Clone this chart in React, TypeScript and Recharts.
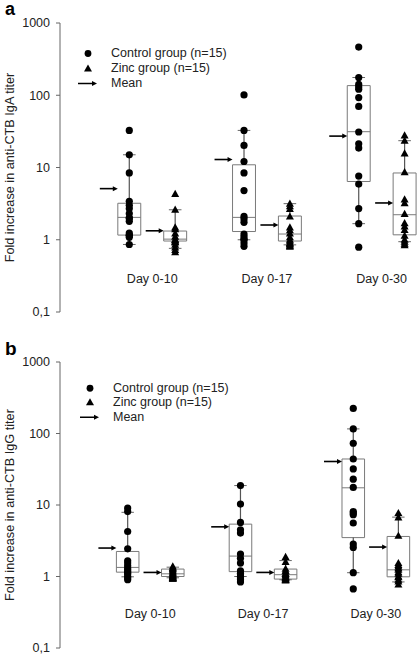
import React from "react";
import { ComposedChart, Scatter, XAxis, YAxis, ReferenceArea, ReferenceLine, Legend } from "recharts";

const days = ["Day 0-10", "Day 0-17", "Day 0-30"];
const yTicks = [0.1, 1, 10, 100, 1000];

// fold increase, anti-CTB IgA (panel a)
const igaControl10 = [32.6, 15, 8.4, 3.4, 3.0, 2.7, 2.3, 2.0, 2.0, 1.8, 1.24, 1.15, 1.15, 1.08, 0.86];
const igaZinc10 = [4.3, 2.6, 1.48, 1.4, 1.22, 1.1, 1.0, 1.0, 0.95, 0.92, 0.92, 0.85, 0.78, 0.72, 0.67];
const igaControl17 = [101, 32.6, 20.2, 12.1, 8.4, 4.8, 2.1, 1.94, 1.74, 1.2, 1.11, 1.02, 1.0, 0.9, 0.81];
const igaZinc17 = [3.16, 2.9, 2.66, 2.09, 1.48, 1.35, 1.22, 1.08, 1.0, 0.95, 0.9, 0.87, 0.85, 0.82, 0.8];
const igaControl30 = [464, 176, 141, 130, 121, 93, 70, 31, 21.3, 18.6, 7.6, 5.9, 2.7, 1.67, 0.79];
const igaZinc30 = [27.8, 23.5, 15.6, 8.6, 3.6, 3.2, 2.28, 1.69, 1.53, 1.36, 1.14, 1.0, 0.94, 0.88, 0.84];
// [low whisker, q1, median, q3, high whisker]
const igaControlBox = [[0.86, 1.16, 2.04, 3.2, 15], [1.0, 1.3, 2.04, 10.9, 32.6], [1.67, 6.4, 31.3, 136, 176]];
const igaZincBox = [[0.76, 0.96, 1.02, 1.32, 2.6], [0.85, 0.96, 1.2, 2.13, 3.16], [0.94, 1.17, 2.22, 8.4, 23.5]];
const igaControlMean = [5.1, 12.9, 27.2];
const igaZincMean = [1.33, 1.6, 3.23];

// fold increase, anti-CTB IgG (panel b)
const iggControl10 = [9.06, 8.1, 4.26, 2.44, 1.66, 1.54, 1.41, 1.31, 1.24, 1.17, 1.12, 1.08, 1.0, 0.95, 0.9];
const iggZinc10 = [1.38, 1.32, 1.27, 1.22, 1.17, 1.13, 1.09, 1.05, 1.02, 1.0, 0.98, 0.96, 0.95, 0.93, 0.93];
const iggControl17 = [18.7, 10.3, 5.7, 4.5, 4.05, 2.06, 1.8, 1.54, 1.2, 1.1, 1.08, 1.0, 0.95, 0.9, 0.84];
const iggZinc17 = [1.87, 1.6, 1.28, 1.2, 1.17, 1.1, 1.08, 1.04, 0.99, 0.97, 0.95, 0.93, 0.9, 0.9, 0.88];
const iggControl30 = [224, 116, 73, 44, 32, 23, 17.6, 8.1, 7.7, 7.3, 5.6, 2.84, 2.55, 1.13, 0.67];
const iggZinc30 = [7.7, 6.7, 3.7, 1.54, 1.45, 1.38, 1.3, 1.24, 1.15, 1.09, 1.0, 0.98, 0.9, 0.85, 0.77];
const iggControlBox = [[0.99, 1.15, 1.34, 2.24, 7.9], [1.0, 1.17, 1.93, 5.4, 18.7], [1.13, 3.5, 17.4, 44, 116]];
const iggZincBox = [[0.96, 1.0, 1.09, 1.27, 1.35], [0.9, 0.92, 1.06, 1.27, 1.67], [0.84, 0.99, 1.24, 3.63, 6.77]];
const iggControlMean = [2.5, 4.95, 40.6];
const iggZincMean = [1.14, 1.14, 2.58];

const FONT = "'Liberation Sans', Arial, sans-serif";
const ZINC = 0.4;
const HALF = 0.1;
const CAP = 0.055;
const BOX = "#7a7a7a";

const Dot = (p: any) => <circle cx={p.cx} cy={p.cy} r={3.6} fill="#000" />;
const Tri = (p: any) => (
  <polygon points={`${p.cx},${p.cy - 4.2} ${p.cx - 4},${p.cy + 3} ${p.cx + 4},${p.cy + 3}`} fill="#000" />
);
const Arrow = (p: any) => (
  <g>
    <line x1={p.cx - 18} y1={p.cy} x2={p.cx - 4} y2={p.cy} stroke="#000" strokeWidth={1.6} />
    <polygon points={`${p.cx},${p.cy} ${p.cx - 5},${p.cy - 2.5} ${p.cx - 5},${p.cy + 2.5}`} fill="#000" />
  </g>
);
const DayLabel = (p: any) => (
  <text x={p.cx} y={p.cy} dy={4} textAnchor="middle" fontFamily={FONT} fontSize={12.5} fill="#222">
    {p.payload.label}
  </text>
);

const LegendContent = (props: any) => {
  const rowH = props.rowH;
  const row = (icon: any, txt: string) => (
    <div style={{ display: "flex", alignItems: "center", height: rowH }}>
      <svg width={33} height={rowH}>{icon}</svg>
      <span>{txt}</span>
    </div>
  );
  const m = rowH / 2;
  return (
    <div style={{ fontFamily: FONT, fontSize: 12.5, color: "#222", lineHeight: 1 }}>
      {row(<circle cx={10} cy={m} r={3.4} fill="#000" />, "Control group (n=15)")}
      {row(<polygon points={`10,${m - 4} 6,${m + 3} 14,${m + 3}`} fill="#000" />, "Zinc group (n=15)")}
      {row(
        <g>
          <line x1={0} y1={m} x2={15} y2={m} stroke="#000" strokeWidth={1.5} />
          <polygon points={`19,${m} 14,${m - 2.5} 14,${m + 2.5}`} fill="#000" />
        </g>,
        "Mean"
      )}
    </div>
  );
};

const Panel = (props: any) => {
  const { control, zinc, controlBox, zincBox, controlMean, zincMean, title, top, height, margin, xDomain, labelY, legendPos, rowH } = props;
  const ctrlPts = control.flatMap((arr: number[], i: number) => arr.map((v) => ({ x: i, y: v })));
  const zincPts = zinc.flatMap((arr: number[], i: number) => arr.map((v) => ({ x: i + ZINC, y: v })));
  const means = [
    ...controlMean.map((v: number, i: number) => ({ x: i - HALF, y: v })),
    ...zincMean.map((v: number, i: number) => ({ x: i + ZINC - HALF, y: v })),
  ];
  const labels = days.map((d, i) => ({ x: i + ZINC / 2, y: labelY, label: d }));
  const boxes = [
    ...controlBox.map((b: number[], i: number) => ({ c: i, b })),
    ...zincBox.map((b: number[], i: number) => ({ c: i + ZINC, b })),
  ];

  return (
    <div style={{ position: "absolute", left: 0, top, width: 417, height }}>
      <ComposedChart width={417} height={height} margin={margin}>
        <XAxis type="number" dataKey="x" domain={xDomain} allowDataOverflow hide />
        <YAxis
          type="number"
          dataKey="y"
          scale="log"
          domain={[0.1, 1000]}
          allowDataOverflow
          ticks={yTicks}
          interval={0}
          width={60}
          tickSize={4}
          tickMargin={6}
          axisLine={{ stroke: "#666" }}
          tickLine={{ stroke: "#666" }}
          tick={{ fontFamily: FONT, fontSize: 12.5, fill: "#222" }}
          tickFormatter={(v: number) => (v === 0.1 ? "0,1" : String(v))}
          label={{
            content: (lp: any) => {
              const vb = lp.viewBox;
              const cx = 10;
              const cy = vb.y + vb.height / 2;
              return (
                <text x={cx} y={cy} transform={`rotate(-90, ${cx}, ${cy})`} textAnchor="middle" dominantBaseline="central" fontFamily={FONT} fontSize={12.7} fill="#222">
                  {title}
                </text>
              );
            },
          }}
        />
        {boxes.map((bx: any, k: number) => (
          <ReferenceArea key={"a" + k} x1={bx.c - HALF} x2={bx.c + HALF} y1={bx.b[1]} y2={bx.b[3]} fill="none" fillOpacity={0} stroke={BOX} strokeWidth={1} />
        ))}
        {boxes.map((bx: any, k: number) => (
          <ReferenceLine key={"m" + k} segment={[{ x: bx.c - HALF, y: bx.b[2] }, { x: bx.c + HALF, y: bx.b[2] }]} stroke={BOX} strokeWidth={1} />
        ))}
        {boxes.map((bx: any, k: number) => (
          <ReferenceLine key={"wl" + k} segment={[{ x: bx.c, y: bx.b[0] }, { x: bx.c, y: bx.b[1] }]} stroke="#555" strokeWidth={1.2} />
        ))}
        {boxes.map((bx: any, k: number) => (
          <ReferenceLine key={"wh" + k} segment={[{ x: bx.c, y: bx.b[3] }, { x: bx.c, y: bx.b[4] }]} stroke="#555" strokeWidth={1.2} />
        ))}
        {boxes.map((bx: any, k: number) => (
          <ReferenceLine key={"cl" + k} segment={[{ x: bx.c - CAP, y: bx.b[0] }, { x: bx.c + CAP, y: bx.b[0] }]} stroke="#666" strokeWidth={1} />
        ))}
        {boxes.map((bx: any, k: number) => (
          <ReferenceLine key={"ch" + k} segment={[{ x: bx.c - CAP, y: bx.b[4] }, { x: bx.c + CAP, y: bx.b[4] }]} stroke="#666" strokeWidth={1} />
        ))}
        <Scatter data={ctrlPts} shape={Dot} isAnimationActive={false} />
        <Scatter data={zincPts} shape={Tri} isAnimationActive={false} />
        <Scatter data={means} shape={Arrow} isAnimationActive={false} />
        <Scatter data={labels} shape={DayLabel} isAnimationActive={false} />
        <Legend
          layout="vertical"
          align="center"
          verticalAlign="middle"
          wrapperStyle={{ left: legendPos[0], top: legendPos[1], width: 200 }}
          content={() => <LegendContent rowH={rowH} />}
        />
      </ComposedChart>
    </div>
  );
}

export default function App() {
  return (
    <div style={{ position: "absolute", left: 0, top: 0, width: 417, height: 658, background: "#fff" }}>
      <Panel
        control={[igaControl10, igaControl17, igaControl30]}
        zinc={[igaZinc10, igaZinc17, igaZinc30]}
        controlBox={igaControlBox}
        zincBox={igaZincBox}
        controlMean={igaControlMean}
        zincMean={igaZincMean}
        title="Fold increase in anti-CTB IgA titer"
        top={0}
        height={330}
        margin={{ top: 23, right: 0, bottom: 18, left: 0 }}
        xDomain={[-0.604, 2.508]}
        labelY={0.29}
        legendPos={[78, 45.5]}
        rowH={15}
      />
      <Panel
        control={[iggControl10, iggControl17, iggControl30]}
        zinc={[iggZinc10, iggZinc17, iggZinc30]}
        controlBox={iggControlBox}
        zincBox={iggZincBox}
        controlMean={iggControlMean}
        zincMean={iggZincMean}
        title="Fold increase in anti-CTB IgG titer"
        top={330}
        height={328}
        margin={{ top: 32, right: 0, bottom: 10, left: 0 }}
        xDomain={[-0.6, 2.565]}
        labelY={0.3}
        legendPos={[80, 50.5]}
        rowH={14.5}
      />
      <svg style={{ position: "absolute", left: 0, top: 0 }} width={417} height={658}>
        <text x={5} y={15} fontFamily={FONT} fontWeight="bold" fontSize={18} fill="#000">a</text>
        <text x={5} y={355} fontFamily={FONT} fontWeight="bold" fontSize={19} fill="#000">b</text>
      </svg>
    </div>
  );
}
